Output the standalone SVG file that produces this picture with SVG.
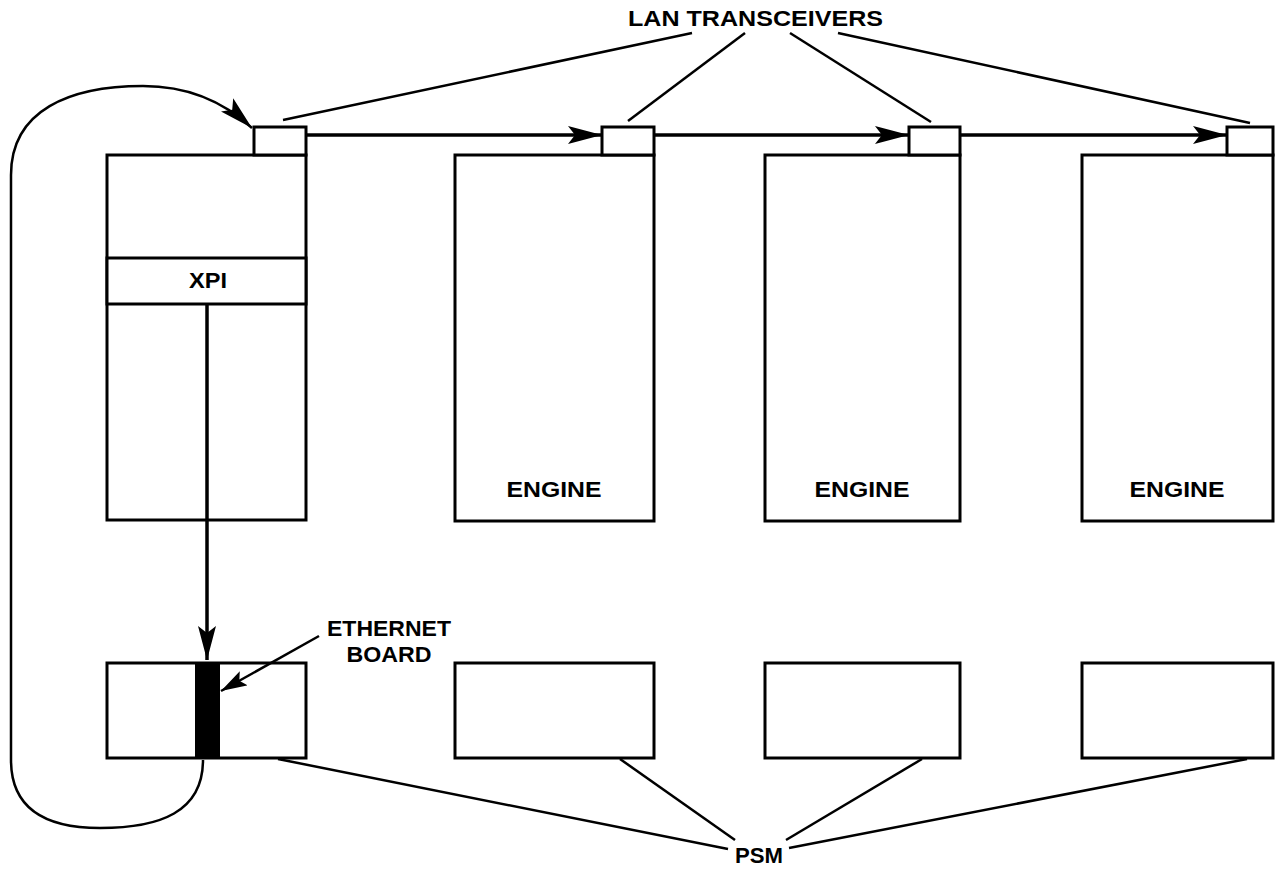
<svg xmlns="http://www.w3.org/2000/svg" width="1277" height="871" viewBox="0 0 1277 871">
<style>
.box{fill:#fff;stroke:#000;stroke-width:3}
.lead{fill:none;stroke:#000;stroke-width:2.5}
.bus{fill:none;stroke:#000;stroke-width:3.5}
.loop{fill:none;stroke:#000;stroke-width:2.5}
text{font-family:"Liberation Sans",Arial,sans-serif;font-weight:bold;font-size:22px;fill:#000}
</style>
<defs>
<marker id="ah" viewBox="0 0 34 20" refX="34" refY="10" markerWidth="34" markerHeight="20" markerUnits="userSpaceOnUse" orient="auto">
<path d="M0 1 L34 10 L0 19 L7 10 Z" fill="#000"/>
</marker>
<marker id="ahs" viewBox="0 0 26 16" refX="26" refY="8" markerWidth="26" markerHeight="16" markerUnits="userSpaceOnUse" orient="auto">
<path d="M0 0 L26 8 L0 16 L5 8 Z" fill="#000"/>
</marker>
</defs>
<rect width="1277" height="871" fill="#fff"/>

<g id="xpi-node">
<rect class="box" x="107" y="155" width="199" height="365"/>
<rect class="box" x="107" y="258" width="199" height="46"/>
<text x="208" y="288" text-anchor="middle" textLength="38" lengthAdjust="spacingAndGlyphs">XPI</text>
</g>
<g id="trx0"><rect class="box" x="254" y="127" width="52" height="28"/></g>

<g id="engine1">
<rect class="box" x="455" y="155" width="199" height="366"/>
<text x="554" y="497" text-anchor="middle" textLength="95" lengthAdjust="spacingAndGlyphs">ENGINE</text>
</g>
<g id="trx1"><rect class="box" x="602" y="127" width="52" height="28"/></g>

<g id="engine2">
<rect class="box" x="765" y="155" width="195" height="366"/>
<text x="862" y="497" text-anchor="middle" textLength="95" lengthAdjust="spacingAndGlyphs">ENGINE</text>
</g>
<g id="trx2"><rect class="box" x="909" y="127" width="51" height="28"/></g>

<g id="engine3">
<rect class="box" x="1082" y="155" width="191" height="366"/>
<text x="1177" y="497" text-anchor="middle" textLength="95" lengthAdjust="spacingAndGlyphs">ENGINE</text>
</g>
<g id="trx3"><rect class="box" x="1227" y="127" width="46" height="28"/></g>

<g id="psm0">
<rect class="box" x="107" y="663" width="199" height="95"/>
<rect x="195" y="662" width="25" height="97" fill="#000"/>
</g>
<g id="psm1"><rect class="box" x="455" y="663" width="199" height="95"/></g>
<g id="psm2"><rect class="box" x="765" y="663" width="195" height="95"/></g>
<g id="psm3"><rect class="box" x="1082" y="663" width="191" height="95"/></g>

<g id="connectors">
<line class="bus" x1="306" y1="135" x2="602" y2="135" marker-end="url(#ah)"/>
<line class="bus" x1="654" y1="135" x2="909" y2="135" marker-end="url(#ah)"/>
<line class="bus" x1="960" y1="135" x2="1227" y2="135" marker-end="url(#ah)"/>
<line class="bus" x1="207" y1="305" x2="207" y2="660" marker-end="url(#ah)"/>
<line class="lead" x1="319" y1="636" x2="221" y2="691" marker-end="url(#ahs)"/>
<path class="loop" d="M203 760 C203 812 160 828 100 828 C40 828 11 805 11 760 L11 175 C11 110 70 86 143 86 C188 86 224 102 252 128" marker-end="url(#ah)"/>
<line class="lead" x1="283" y1="120" x2="692" y2="33"/>
<line class="lead" x1="628" y1="121" x2="745" y2="33"/>
<line class="lead" x1="931" y1="122" x2="790" y2="33"/>
<line class="lead" x1="1250" y1="123" x2="838" y2="33"/>
<line class="lead" x1="278" y1="759" x2="728" y2="849"/>
<line class="lead" x1="620" y1="759" x2="735" y2="840"/>
<line class="lead" x1="922" y1="759" x2="786" y2="840"/>
<line class="lead" x1="1247" y1="759" x2="789" y2="848"/>
</g>

<g id="labels">
<text x="628" y="26" textLength="255" lengthAdjust="spacingAndGlyphs">LAN TRANSCEIVERS</text>
<text x="389" y="636" text-anchor="middle" textLength="124" lengthAdjust="spacingAndGlyphs">ETHERNET</text>
<text x="389" y="662" text-anchor="middle" textLength="85" lengthAdjust="spacingAndGlyphs">BOARD</text>
<text x="759" y="863" text-anchor="middle" textLength="48" lengthAdjust="spacingAndGlyphs">PSM</text>
</g>
</svg>
